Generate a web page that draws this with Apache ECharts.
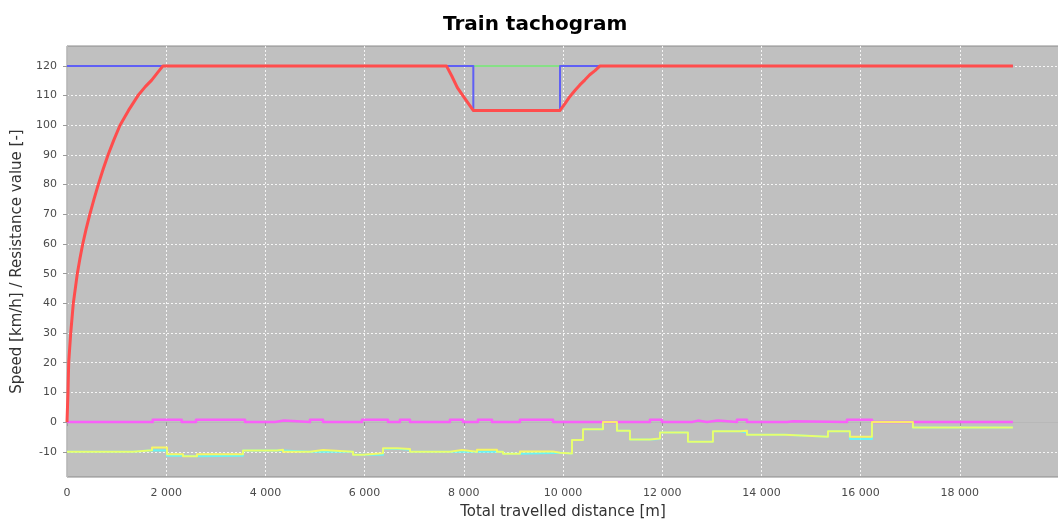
<!DOCTYPE html>
<html>
<head>
<meta charset="utf-8">
<title>Train tachogram</title>
<script src="https://cdn.jsdelivr.net/npm/echarts@6/dist/echarts.min.js"></script>
<style>
  html, body { margin: 0; padding: 0; background: #ffffff; }
  #chart { width: 1058px; height: 525px; }
</style>
</head>
<body>
<div id="chart"></div>
<script>
// Tick positions
const xTicks = [0, 2000, 4000, 6000, 8000, 10000, 12000, 14000, 16000, 18000];
const yTicks = [-10, 0, 10, 20, 30, 40, 50, 60, 70, 80, 90, 100, 110, 120];

// Actual train speed [km/h] against distance [m]
const speedPoints = [
  [0, 0], [20, 10], [34, 20], [75, 30], [127, 40], [208, 50], [260, 55], [317, 60],
  [385, 65], [460, 70], [543, 75], [630, 80], [725, 85], [827, 90], [943, 95],
  [1069, 100], [1240, 105], [1431, 110], [1580, 113], [1708, 115.2], [1830, 117.8],
  [1935, 120],
  [7650, 120], [7760, 116.5], [7870, 112.7], [8030, 108.8], [8190, 105],
  [9940, 105], [10040, 107.3], [10140, 109.7], [10240, 111.7], [10340, 113.6],
  [10443, 115.3], [10540, 117], [10645, 118.4], [10746, 120], [19071, 120]
];

// Line speed limit [km/h]
const limitPoints = [
  [0, 120], [8192, 120], [8192, 105], [9940, 105], [9940, 120], [19071, 120]
];

// Nominal speed over the restricted section [km/h]
const nominalPoints = [[8192, 120], [9940, 120]];

// Resistance values: each pair is [start of section, value held until the next one]
const yellowSteps = [
  [0, -10], [1331, -9.5], [1714, -8.6], [2016, -10.8], [2339, -11.5], [2621, -10.8],
  [3548, -9.6], [4234, -9.3], [4355, -10], [4899, -9.4], [5161, -10], [5766, -11],
  [5967, -10.5], [6371, -8.8], [6653, -9.1], [6915, -10], [7721, -9.4], [7963, -10],
  [8266, -9.3], [8669, -10], [8790, -10.7], [9132, -9.9], [9798, -10.3], [9939, -10.6],
  [10181, -6.0], [10403, -2.4], [10806, 0], [11088, -2.9], [11350, -5.9], [11753, -5.5],
  [11955, -3.5], [12519, -6.6], [13023, -3.1], [13568, -2.9], [13709, -4.3], [14475, -4.9],
  [15342, -3.1], [15785, -4.9], [16229, 0], [17055, -1.8], [19071, -1.8]
];

const cyanSteps = [
  [0, -10], [1331, -9.5], [1714, -9.6], [2016, -11.3], [2339, -11.5], [2621, -11.3],
  [3548, -9.6], [4355, -10], [4899, -9.9], [5161, -10], [5766, -11], [5967, -11],
  [6371, -9.0], [6653, -9.3], [6915, -10], [8669, -10], [8790, -10.7], [9132, -10.4],
  [9798, -10.3], [9939, -10.6], [10181, -6.0], [10403, -2.4], [10806, 0], [11088, -2.9],
  [11350, -5.9], [11753, -5.7], [11955, -3.5], [12519, -6.6], [13023, -3.1], [13568, -3.5],
  [13709, -4.3], [14475, -4.9], [15342, -3.1], [15785, -5.7], [16229, 0], [17055, -1.8],
  [19071, -1.8]
];

const magentaSteps = [
  [0, 0], [1728, 0.8], [2312, 0], [2601, 0.8], [3589, 0], [4194, 0.5], [4375, 0],
  [4899, 0.8], [5161, 0], [5947, 0.8], [6471, 0], [6713, 0.8], [6915, 0], [7721, 0.8],
  [7983, 0], [8286, 0.8], [8568, 0], [9132, 0.8], [9798, 0], [11753, 0.8], [11995, 0],
  [12600, 0.5], [12721, 0], [12902, 0.5], [13124, 0], [13507, 0.8], [13709, 0],
  [14515, 0.3], [14636, 0], [15725, 0.8], [16229, 0], [19071, 0]
];

const FONT = '"DejaVu Sans", "Liberation Sans", sans-serif';

function spaced(v) {
  return String(v).replace(/\B(?=(\d{3})+(?!\d))/g, ' ');
}

const chart = echarts.init(document.getElementById('chart'), null, { renderer: 'canvas' });

function lineSeries(name, data, color, width, opacity, step) {
  return {
    name: name,
    type: 'line',
    data: data,
    step: step || false,
    showSymbol: false,
    symbol: 'none',
    animation: false,
    lineStyle: { color: color, width: width, opacity: opacity, join: 'round' },
    itemStyle: { color: color },
    emphasis: { disabled: true }
  };
}

chart.setOption({
  backgroundColor: '#ffffff',
  animation: false,
  title: {
    text: 'Train tachogram',
    left: 438,
    top: 10,
    textStyle: { fontFamily: FONT, fontWeight: 'bold', fontSize: 20, color: '#000000' }
  },
  grid: {
    left: 67,
    top: 46,
    right: -1,
    bottom: 48,
    containLabel: false,
    outerBoundsMode: 'none',
    show: true,
    backgroundColor: '#c0c0c0',
    borderColor: '#8a8a8a',
    borderWidth: 1
  },
  xAxis: {
    type: 'value',
    min: 0,
    max: 20000,
    interval: 2000,
    offset: 4,
    name: 'Total travelled distance [m]',
    nameLocation: 'middle',
    nameGap: 24,
    nameTextStyle: { fontFamily: FONT, fontSize: 15, color: '#333333' },
    axisLine: { show: true, lineStyle: { color: '#b8b8b8', width: 1 } },
    axisTick: { show: true, length: 4, lineStyle: { color: '#9a9a9a' }, customValues: xTicks },
    axisLabel: {
      fontFamily: FONT, fontSize: 11, color: '#4a4a4a', margin: 7,
      customValues: xTicks,
      formatter: function (v) { return spaced(v); }
    },
    splitLine: { show: true, lineStyle: { color: '#ffffff', type: [2, 2], width: 1, opacity: 0.85 } }
  },
  yAxis: {
    type: 'value',
    min: -18.5,
    max: 126.7,
    interval: 10,
    offset: 4,
    name: 'Speed [km/h] / Resistance value [-]',
    nameLocation: 'middle',
    nameGap: 37,
    nameTextStyle: { fontFamily: FONT, fontSize: 15, color: '#333333' },
    axisLine: { show: true, lineStyle: { color: '#b8b8b8', width: 1 } },
    axisTick: { show: true, length: 4, lineStyle: { color: '#9a9a9a' }, customValues: yTicks },
    axisLabel: {
      fontFamily: FONT, fontSize: 11, color: '#4a4a4a', margin: 6,
      customValues: yTicks,
      formatter: function (v) { return String(v); }
    },
    splitLine: { show: true, lineStyle: { color: '#ffffff', type: [2, 2], width: 1, opacity: 0.85 } }
  },
  series: [
    lineSeries('Resistance C', cyanSteps, '#55ffff', 2, 0.8, 'end'),
    lineSeries('Resistance B', magentaSteps, '#ff55ff', 2.5, 0.9, 'end'),
    lineSeries('Resistance A', yellowSteps, '#ffff55', 2, 0.85, 'end'),
    lineSeries('Nominal speed', nominalPoints, '#86e086', 2, 1),
    lineSeries('Speed limit', limitPoints, '#5f5ff5', 2, 1),
    lineSeries('Speed', speedPoints, '#ff4d4d', 3, 1)
  ]
});
</script>
</body>
</html>
